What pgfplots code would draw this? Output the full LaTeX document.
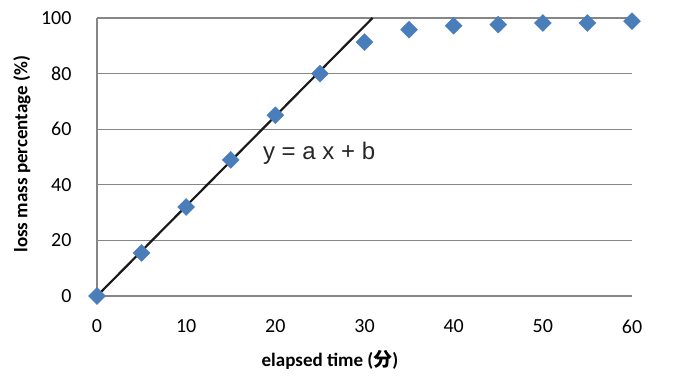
\documentclass[border=0pt]{standalone}
\usepackage{pgfplots}
\pgfplotsset{compat=1.18}
\usepackage{fontspec}
\setmainfont{Carlito}
\newfontfamily\cjk{Noto Sans CJK SC}
\newfontfamily\eqfont{Liberation Sans}
\definecolor{mk}{HTML}{4A7EBB}
\definecolor{gr}{HTML}{868686}
\begin{document}
\begin{tikzpicture}
\useasboundingbox (-97pt,-79pt) rectangle (579pt,296pt);
\begin{axis}[
  at={(0,0)}, anchor=south west,
  scale only axis, width=535pt, height=278pt,
  xmin=0, xmax=60, ymin=0, ymax=100,
  xtick={0,10,...,60}, ytick={0,20,...,100},
  ymajorgrids, major grid style={gr, line width=1.2pt},
  axis x line*=bottom, axis y line*=left,
  axis line style={gr, line width=1.2pt, -},
  tick style={draw=none},
  /pgf/number format/assume math mode=true,
  ticklabel style={font=\fontsize{20}{24}\selectfont},
  xticklabel style={yshift=-20pt},
  yticklabel style={xshift=-22pt},
  clip=false,
  xlabel={\bfseries elapsed time ({\cjk\bfseries 分})},
  ylabel={\bfseries loss mass percentage (\%)},
  label style={font=\fontsize{19}{22}\selectfont},
  xlabel style={at={(rel axis cs:0.4355,0)}, anchor=center, yshift=-64pt},
  every axis y label/.append style={at={(rel axis cs:-0.1402,0.51)}, anchor=center},
]
\addplot[only marks, mark=square*, mark size=6pt, mark options={mk, rotate=45}]
coordinates {(0,0) (5,15.5) (10,32) (15,49) (20,65) (25,80) (30,91.3) (35,95.8) (40,97.2) (45,97.6) (50,98.2) (55,98.2) (60,98.9)};
\addplot[black!90, line width=2.2pt] coordinates {(0,0) (30.9,100)};
\node[anchor=west, inner sep=0pt, font=\eqfont\fontsize{24}{28}\selectfont, text=black!85] at (axis cs:18.6,51.5) {y = a x + b};
\end{axis}
\end{tikzpicture}
\end{document}
